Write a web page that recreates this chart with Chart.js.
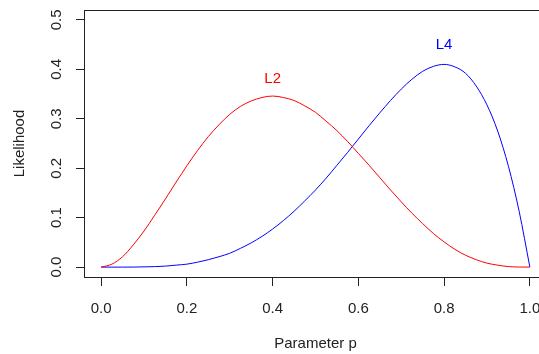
<!DOCTYPE html>
<html>
<head>
<meta charset="utf-8">
<script src="https://cdn.jsdelivr.net/npm/chart.js@4"></script>
<style>
  html, body { margin: 0; padding: 0; background: #fff; overflow: hidden; }
  canvas { display: block; }
</style>
</head>
<body>
<canvas id="myChart" width="560" height="354"></canvas>
<script>
// values
const pValues = [0, 0.025, 0.05, 0.075, 0.1, 0.125, 0.15, 0.175, 0.2, 0.225, 0.25,
    0.275, 0.3, 0.325, 0.35, 0.375, 0.4, 0.425, 0.45, 0.475, 0.5,
    0.525, 0.55, 0.575, 0.6, 0.625, 0.65, 0.675, 0.7, 0.725, 0.75,
    0.775, 0.8, 0.825, 0.85, 0.875, 0.9, 0.925, 0.95, 0.975, 1];
const likelihoodL2 = [0, 0.006, 0.021, 0.045, 0.073, 0.105, 0.138, 0.172, 0.205, 0.236, 0.264,
    0.288, 0.309, 0.325, 0.336, 0.343, 0.346, 0.343, 0.337, 0.326, 0.313,
    0.295, 0.276, 0.254, 0.230, 0.206, 0.181, 0.156, 0.132, 0.109, 0.088,
    0.068, 0.051, 0.036, 0.024, 0.015, 0.008, 0.004, 0.001, 0.0002, 0];
const likelihoodL4 = [0, 0, 0, 0.0001, 0.0005, 0.001, 0.002, 0.004, 0.006, 0.010, 0.015,
    0.021, 0.028, 0.038, 0.049, 0.062, 0.077, 0.094, 0.113, 0.134, 0.156,
    0.180, 0.206, 0.232, 0.259, 0.286, 0.312, 0.337, 0.360, 0.380, 0.396,
    0.406, 0.410, 0.405, 0.392, 0.366, 0.328, 0.275, 0.204, 0.113, 0];
const xTicks = [0, 0.2, 0.4, 0.6, 0.8, 1.0];
const yTicks = [0, 0.1, 0.2, 0.3, 0.4, 0.5];
const curveLabels = [
    { text: "L2", x: 0.4, y: 0.38, color: "#ff0000" },
    { text: "L4", x: 0.8, y: 0.45, color: "#0000ff" },
];

const FONT = "'Liberation Sans', Arial, Helvetica, sans-serif";
const INK = "#222";

const toPoints = (ys) => pValues.map((p, i) => ({ x: p, y: ys[i] }));

const rBase = {
    id: "rBase",
    afterDraw(chart) {
        const { ctx, chartArea: a, scales } = chart;
        ctx.save();
        ctx.strokeStyle = INK;
        ctx.lineWidth = 1;
        ctx.strokeRect(Math.round(a.left) + 0.5, Math.round(a.top) + 0.5,
            Math.round(a.right - a.left), Math.round(a.bottom - a.top));

        // y tick labels, rotated like R
        ctx.fillStyle = INK;
        ctx.font = "15px " + FONT;
        ctx.textAlign = "center";
        ctx.textBaseline = "middle";
        yTicks.forEach((v) => {
            ctx.save();
            ctx.translate(57, scales.y.getPixelForValue(v));
            ctx.rotate(-Math.PI / 2);
            ctx.fillText(v.toFixed(1), 0, 0);
            ctx.restore();
        });

        curveLabels.forEach((l) => {
            ctx.fillStyle = l.color;
            ctx.fillText(l.text, scales.x.getPixelForValue(l.x), scales.y.getPixelForValue(l.y));
        });
        ctx.restore();
    },
};

const ctx = document.getElementById("myChart").getContext("2d");

new Chart(ctx, {
    type: "line",
    data: {
        datasets: [
            {
                label: "L2",
                data: toPoints(likelihoodL2),
                borderColor: "#ff0000",
                borderWidth: 1,
                pointRadius: 0,
                cubicInterpolationMode: "monotone",
                fill: false,
            },
            {
                label: "L4",
                data: toPoints(likelihoodL4),
                borderColor: "#0000ff",
                borderWidth: 1,
                pointRadius: 0,
                cubicInterpolationMode: "monotone",
                fill: false,
            },
        ],
    },
    options: {
        responsive: false,
        animation: false,
        layout: { padding: { top: 10, right: 13, left: 0, bottom: 0 } },
        plugins: { legend: { display: false }, tooltip: { enabled: false } },
        scales: {
            x: {
                type: "linear",
                min: -0.04,
                max: 1.04,
                afterBuildTicks: (s) => { s.ticks = xTicks.map((v) => ({ value: v })); },
                afterFit: (s) => { s.height = 77; },
                grid: { drawOnChartArea: false, drawTicks: true, tickLength: 9, color: INK },
                border: { display: true, color: INK },
                ticks: {
                    color: INK,
                    font: { family: FONT, size: 15 },
                    padding: 14,
                    maxRotation: 0,
                    callback: (v) => v.toFixed(1),
                },
                title: {
                    display: true,
                    text: "Parameter p",
                    color: INK,
                    font: { family: FONT, size: 15 },
                    padding: { top: 0, bottom: 1 },
                },
            },
            y: {
                type: "linear",
                min: -0.02,
                max: 0.52,
                afterBuildTicks: (s) => { s.ticks = yTicks.map((v) => ({ value: v })); },
                afterFit: (s) => { s.width = 84; },
                grid: { drawOnChartArea: false, drawTicks: true, tickLength: 8, color: INK },
                border: { display: true, color: INK },
                ticks: { display: false },
                title: {
                    display: true,
                    text: "Likelihood",
                    color: INK,
                    font: { family: FONT, size: 15 },
                    padding: { top: 11, bottom: 0 },
                },
            },
        },
    },
    plugins: [rBase],
});
</script>
</body>
</html>
